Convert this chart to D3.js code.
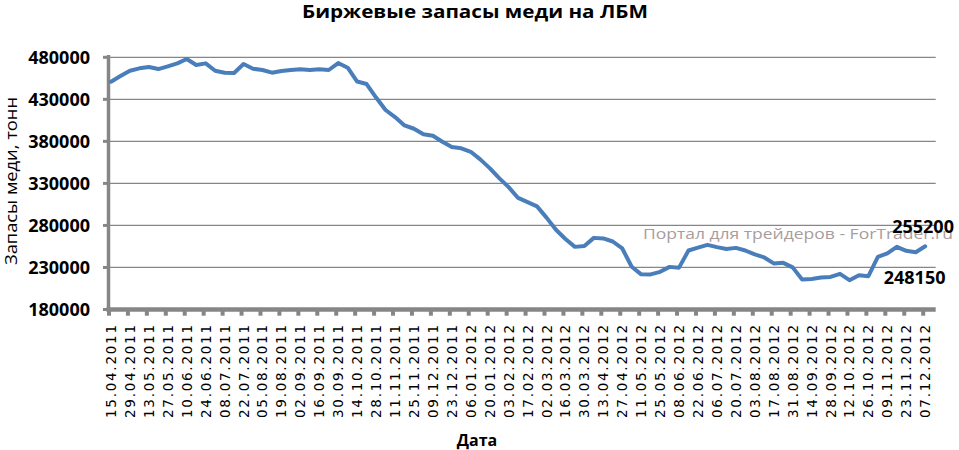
<!DOCTYPE html>
<html>
<head>
<meta charset="utf-8">
<script src="https://cdn.jsdelivr.net/npm/d3@7"></script>
<style>
  html, body { margin: 0; padding: 0; background: #fff; }
  svg { display: block; }
</style>
</head>
<body>
<svg id="chart" width="959" height="450"></svg>
<script>
// ---- data ----
const title = "Биржевые запасы меди на ЛБМ";
const yTitle = "Запасы меди, тонн";
const xTitle = "Дата";
const watermark = "Портал для трейдеров - ForTrader.ru";

// tick labels (every second weekly category)
const tickLabels = [
  "15.04.2011","29.04.2011","13.05.2011","27.05.2011","10.06.2011","24.06.2011",
  "08.07.2011","22.07.2011","05.08.2011","19.08.2011","02.09.2011","16.09.2011",
  "30.09.2011","14.10.2011","28.10.2011","11.11.2011","25.11.2011","09.12.2011",
  "23.12.2011","06.01.2012","20.01.2012","03.02.2012","17.02.2012","02.03.2012",
  "16.03.2012","30.03.2012","13.04.2012","27.04.2012","11.05.2012","25.05.2012",
  "08.06.2012","22.06.2012","06.07.2012","20.07.2012","03.08.2012","17.08.2012",
  "31.08.2012","14.09.2012","28.09.2012","12.10.2012","26.10.2012","09.11.2012",
  "23.11.2012","07.12.2012"
];

// weekly copper stocks, tonnes
const stocks = [
  451000, 457700, 464000, 466900, 468400, 466000, 469300, 472800, 478000, 470800,
  472800, 464000, 461700, 461300, 472000, 466400, 464900, 461700, 463700, 464900,
  465700, 464900, 465700, 464900, 473200, 467600, 451200, 448200, 432100, 417300,
  408900, 399000, 395000, 388400, 386700, 379500, 373200, 371800, 367600, 358600,
  348200, 336300, 325600, 312700, 307700, 302700, 289300, 274800, 263900, 254500,
  255400, 265200, 264500, 260900, 252600, 230900, 221800, 221700, 224800, 230700,
  229800, 250200, 253600, 256900, 254200, 252000, 253300, 250200, 245500, 241900,
  234800, 235500, 230100, 215700, 216300, 218100, 218800, 222400, 214900, 220800,
  219600, 242600, 246700, 254500, 249800, 248150, 255200
];

const yTicks = [180000, 230000, 280000, 330000, 380000, 430000, 480000];
const endLabels = [{ idx: 86, text: "255200" }, { idx: 85, text: "248150" }];

// ---- drawing ----
const svg = d3.select("#chart");
const axisColor = "#868686";
const lineColor = "#4a7ebb";

const plotLeft = 108.5, plotRight = 935.7, plotTop = 57.3, plotBottom = 309.5;

const x = d3.scaleLinear().domain([0, stocks.length - 1]).range([111, 925.2]);
const y = d3.scaleLinear().domain([180000, 480000]).range([plotBottom, plotTop]);

// gridlines
svg.append("g").selectAll("line")
  .data(yTicks.filter(d => d > 180000))
  .join("line")
  .attr("x1", plotLeft + 1).attr("x2", plotRight)
  .attr("y1", d => y(d)).attr("y2", d => y(d))
  .attr("stroke", axisColor).attr("stroke-width", 1.2);

// y axis ticks (left)
svg.append("g").selectAll("line")
  .data(yTicks)
  .join("line")
  .attr("x1", 103).attr("x2", plotLeft)
  .attr("y1", d => y(d)).attr("y2", d => y(d))
  .attr("stroke", axisColor).attr("stroke-width", 3);

// y axis labels
svg.append("g").selectAll("text")
  .data(yTicks)
  .join("text")
  .attr("x", 90).attr("y", d => y(d) + 6.5)
  .attr("text-anchor", "end")
  .attr("font-family", "'Open Sans', sans-serif")
  .attr("font-weight", "bold")
  .attr("font-size", 18)
  .attr("fill", "#000")
  .text(d => d);

// x axis ticks (every 2 categories)
const tickIdx = d3.range(0, stocks.length + 1, 2);
svg.append("g").selectAll("line")
  .data(tickIdx)
  .join("line")
  .attr("x1", d => x(d) - 2).attr("x2", d => x(d) - 2)
  .attr("y1", plotBottom).attr("y2", 315.7)
  .attr("stroke", axisColor).attr("stroke-width", 4);

// axes lines
svg.append("line")
  .attr("x1", plotLeft).attr("x2", plotLeft)
  .attr("y1", 55).attr("y2", plotBottom + 2)
  .attr("stroke", axisColor).attr("stroke-width", 3.5);
svg.append("line")
  .attr("x1", plotLeft - 2).attr("x2", plotRight)
  .attr("y1", plotBottom).attr("y2", plotBottom)
  .attr("stroke", axisColor).attr("stroke-width", 4.5);

// x labels (rotated)
svg.append("g").selectAll("text")
  .data(tickLabels)
  .join("text")
  .attr("transform", (d, i) => `translate(${x(i * 2) + 5},325) rotate(-90)`)
  .attr("text-anchor", "end")
  .attr("font-family", "'DejaVu Sans', sans-serif")
  .attr("font-size", 13.5)
  .attr("textLength", 93)
  .attr("lengthAdjust", "spacing")
  .attr("fill", "#000")
  .text(d => d);

// watermark
svg.append("text")
  .attr("x", 643).attr("y", 239)
  .attr("font-family", "'Open Sans', sans-serif")
  .attr("font-size", 15)
  .attr("fill", "#a89c9c")
  .attr("textLength", 310)
  .attr("lengthAdjust", "spacingAndGlyphs")
  .text(watermark);

// data line
const line = d3.line()
  .x((d, i) => x(i))
  .y(d => y(d));
svg.append("path")
  .datum(stocks)
  .attr("d", line)
  .attr("fill", "none")
  .attr("stroke", lineColor)
  .attr("stroke-width", 4)
  .attr("stroke-linejoin", "round")
  .attr("stroke-linecap", "round");

// data labels
svg.append("text")
  .attr("x", x(endLabels[0].idx) - 33).attr("y", y(stocks[endLabels[0].idx]) - 13)
  .attr("font-family", "'Open Sans', sans-serif")
  .attr("font-weight", "bold").attr("font-size", 18)
  .text(endLabels[0].text);
svg.append("text")
  .attr("x", x(endLabels[1].idx) - 32).attr("y", y(stocks[endLabels[1].idx]) + 32)
  .attr("font-family", "'Open Sans', sans-serif")
  .attr("font-weight", "bold").attr("font-size", 18)
  .text(endLabels[1].text);

// titles
svg.append("text")
  .attr("x", 475).attr("y", 18)
  .attr("text-anchor", "middle")
  .attr("font-family", "'Open Sans', sans-serif")
  .attr("font-weight", "bold").attr("font-size", 17)
  .attr("textLength", 346).attr("lengthAdjust", "spacingAndGlyphs")
  .text(title);

svg.append("text")
  .attr("transform", "translate(17,181) rotate(-90)")
  .attr("text-anchor", "middle")
  .attr("font-family", "'Open Sans', sans-serif")
  .attr("font-size", 16)
  .attr("textLength", 168).attr("lengthAdjust", "spacingAndGlyphs")
  .text(yTitle);

svg.append("text")
  .attr("x", 477).attr("y", 446)
  .attr("text-anchor", "middle")
  .attr("font-family", "'Open Sans', sans-serif")
  .attr("font-weight", "bold").attr("font-size", 16)
  .text(xTitle);
</script>
</body>
</html>
